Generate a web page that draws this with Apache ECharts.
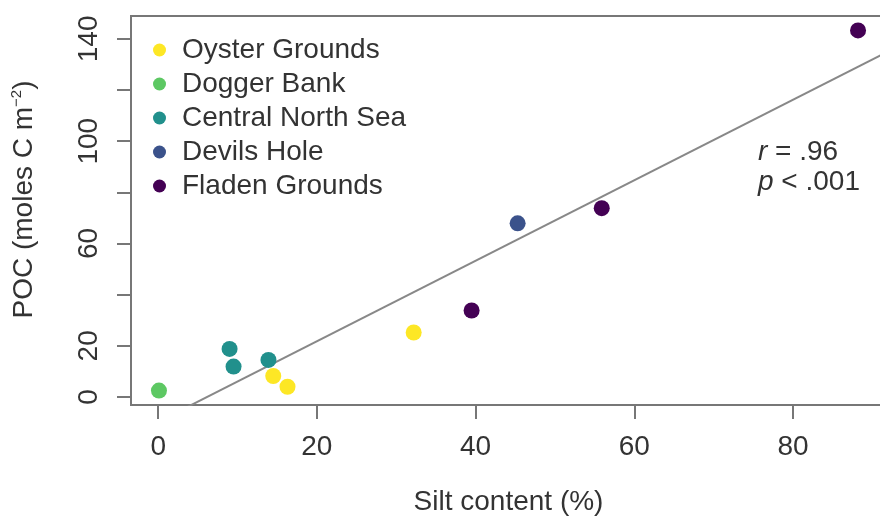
<!DOCTYPE html>
<html>
<head>
<meta charset="utf-8">
<script src="https://cdn.jsdelivr.net/npm/echarts@6/dist/echarts.min.js"></script>
<style>
  html, body { margin: 0; padding: 0; background: #fff; }
  #chart { width: 880px; height: 517px; }
</style>
</head>
<body>
<div id="chart"></div>
<script>
// Sampling sites and their measurements
const sites = ['Oyster Grounds', 'Dogger Bank', 'Central North Sea', 'Devils Hole', 'Fladen Grounds'];

const oysterSilt = [14.5, 16.3, 32.2];
const oysterPOC = [8.2, 4.0, 25.2];
const doggerSilt = [0.1];
const doggerPOC = [2.5];
const centralSilt = [9.0, 9.5, 13.9];
const centralPOC = [18.8, 11.9, 14.5];
const devilsSilt = [45.3];
const devilsPOC = [67.9];
const fladenSilt = [39.5, 55.9, 88.2];
const fladenPOC = [33.8, 73.8, 143.3];

const xTicks = [0, 20, 40, 60, 80];
const yTicks = [0, 20, 40, 60, 80, 100, 120, 140];
const yTickLabels = [0, 20, 60, 100, 140];

const statLines = ['r', ' = .96', 'p', ' < .001'];

// viridis palette, one colour per site
const siteColors = ['#FDE725', '#5DC863', '#21908C', '#3B528B', '#440154'];

const siltBySite = [oysterSilt, doggerSilt, centralSilt, devilsSilt, fladenSilt];
const pocBySite = [oysterPOC, doggerPOC, centralPOC, devilsPOC, fladenPOC];

const allSilt = [].concat(...siltBySite);
const allPOC = [].concat(...pocBySite);

// Least-squares fit of POC on silt
function fit(xs, ys) {
  const n = xs.length;
  const mx = xs.reduce((a, b) => a + b, 0) / n;
  const my = ys.reduce((a, b) => a + b, 0) / n;
  let sxy = 0, sxx = 0;
  for (let i = 0; i < n; i++) {
    sxy += (xs[i] - mx) * (ys[i] - my);
    sxx += (xs[i] - mx) * (xs[i] - mx);
  }
  const slope = sxy / sxx;
  return { slope, intercept: my - slope * mx };
}
const model = fit(allSilt, allPOC);

// Axis limits padded by 4% of the data range on each side
function padded(vals) {
  const lo = Math.min(...vals), hi = Math.max(...vals);
  const pad = 0.04 * (hi - lo);
  return [lo - pad, hi + pad];
}
const [xMin, xMax] = padded(allSilt);
const [yMin, yMax] = padded(allPOC);

const fitLine = [xMin, xMax].map(x => [x, model.intercept + model.slope * x]);

const FONT = 'Liberation Sans, Arial, Helvetica, sans-serif';
const TEXT = '#333';
const AXIS = '#777';

const scatterSeries = sites.map((name, i) => ({
  name,
  type: 'scatter',
  symbol: 'circle',
  symbolSize: 16,
  z: 3,
  itemStyle: { color: siteColors[i], opacity: 1 },
  data: siltBySite[i].map((x, j) => [x, pocBySite[i][j]])
}));

const chart = echarts.init(document.getElementById('chart'), null, { renderer: 'canvas' });
chart.setOption({
  animation: false,
  backgroundColor: '#fff',
  textStyle: { fontFamily: FONT },
  grid: {
    left: 131, top: 16, width: 755, height: 389,
    outerBoundsMode: 'none',
    containLabel: false,
    show: true, borderColor: AXIS, borderWidth: 2, backgroundColor: 'transparent'
  },
  legend: {
    orient: 'vertical',
    left: 148,
    top: 31,
    itemWidth: 13,
    itemHeight: 13,
    itemGap: 6,
    icon: 'circle',
    data: sites,
    textStyle: { fontFamily: FONT, fontSize: 28, color: TEXT, lineHeight: 28, padding: [0, 0, 0, 11] }
  },
  xAxis: {
    type: 'value',
    min: xMin,
    max: xMax,
    splitLine: { show: false },
    axisLine: { show: false, onZero: false },
    axisTick: { show: true, length: 14, lineStyle: { color: AXIS, width: 2 }, customValues: xTicks },
    axisLabel: { fontSize: 28, color: TEXT, fontFamily: FONT, margin: 28, customValues: xTicks },
    name: 'Silt content (%)',
    nameLocation: 'middle',
    nameGap: 83,
    nameTextStyle: { fontSize: 28, color: TEXT, fontFamily: FONT }
  },
  yAxis: {
    type: 'value',
    min: yMin,
    max: yMax,
    splitLine: { show: false },
    axisLine: { show: false, onZero: false },
    axisTick: { show: true, length: 14, lineStyle: { color: AXIS, width: 2 }, customValues: yTicks },
    axisLabel: { fontSize: 28, color: TEXT, fontFamily: FONT, margin: 28, rotate: 90, customValues: yTickLabels },
    name: 'POC (moles C m{sup|−2})',
    nameLocation: 'middle',
    nameRotate: 90,
    nameGap: 92,
    nameTextStyle: {
      fontSize: 28, color: TEXT, fontFamily: FONT, lineHeight: 30,
      padding: [0, 0, 0, 22],
      rich: { sup: { fontSize: 15, color: TEXT, fontFamily: FONT, verticalAlign: 'top', lineHeight: 30 } }
    }
  },
  graphic: [
    {
      type: 'text',
      left: 758,
      top: 137,
      style: {
        text: '{i|' + statLines[0] + '}' + statLines[1] + '\n{i|' + statLines[2] + '}' + statLines[3],
        fontSize: 28,
        lineHeight: 30,
        fill: TEXT,
        fontFamily: FONT,
        rich: { i: { fontStyle: 'italic', fontSize: 28, lineHeight: 30, fontFamily: FONT, fill: TEXT } }
      }
    }
  ],
  series: [
    {
      name: 'fit',
      type: 'line',
      data: fitLine,
      symbol: 'none',
      clip: true,
      z: 2,
      lineStyle: { color: '#888', width: 2 },
      silent: true
    },
    ...scatterSeries
  ]
});
</script>
</body>
</html>
